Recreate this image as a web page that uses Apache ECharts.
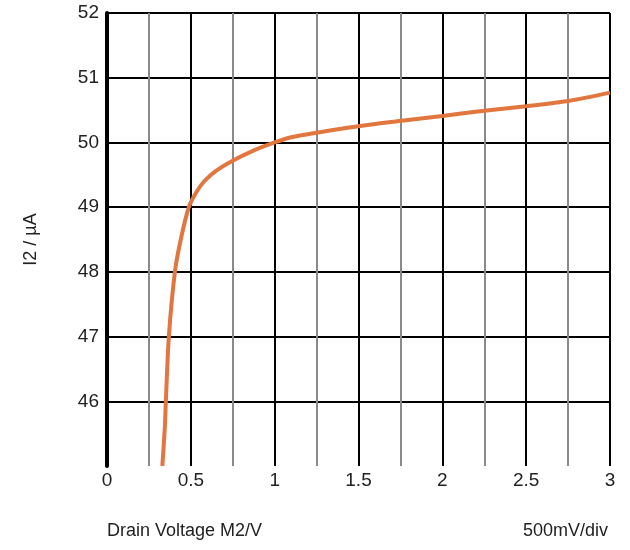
<!DOCTYPE html>
<html>
<head>
<meta charset="utf-8">
<script src="https://cdn.jsdelivr.net/npm/echarts@6/dist/echarts.min.js"></script>
<style>
  html, body { margin: 0; padding: 0; background: #fff; }
  #chart { width: 630px; height: 550px; }
</style>
</head>
<body>
<div id="chart"></div>
<script>
  // drain voltage (V) and current (uA)
  var voltage = [0.33, 0.345, 0.351, 0.369, 0.405, 0.44, 0.488, 0.53, 0.58, 0.65, 0.744, 0.87, 1.0, 1.1, 1.25, 1.5, 1.744, 2.0, 2.25, 2.5, 2.75, 3.0];
  var current = [45.0, 45.6, 46.0, 47.0, 48.0, 48.5, 49.0, 49.22, 49.4, 49.56, 49.71, 49.87, 50.0, 50.08, 50.15, 50.25, 50.33, 50.41, 50.49, 50.56, 50.64, 50.77];

  var points = voltage.map(function (v, i) { return [v, current[i]]; });

  var myChart = echarts.init(document.getElementById('chart'));
  var fontFamily = 'Liberation Sans, Arial, sans-serif';

  var option = {
    animation: false,
    grid: {
      left: 107,
      right: 20,
      top: 13,
      bottom: 84
    },
    xAxis: {
      type: 'value',
      min: 0,
      max: 3,
      interval: 0.5,
      axisLine: { show: false },
      axisTick: { show: false },
      axisLabel: {
        color: '#222',
        fontSize: 19,
        fontFamily: fontFamily,
        margin: 5
      },
      splitLine: {
        show: true,
        showMinLine: false,
        lineStyle: { color: '#000', width: 2 }
      },
      minorSplitLine: {
        show: true,
        lineStyle: { color: '#8a8a8a', width: 2 }
      },
      minorTick: { show: false, splitNumber: 2 }
    },
    yAxis: {
      type: 'value',
      min: 45,
      max: 52,
      interval: 1,
      name: 'I2 / µA',
      nameLocation: 'middle',
      nameGap: 67,
      nameTextStyle: {
        color: '#222',
        fontSize: 18,
        fontFamily: fontFamily
      },
      axisLine: {
        show: true,
        lineStyle: { color: '#000', width: 4 }
      },
      axisTick: { show: false },
      axisLabel: {
        color: '#222',
        fontSize: 19,
        fontFamily: fontFamily,
        margin: 8,
        formatter: function (v) { return v === 45 ? '' : v; }
      },
      splitLine: {
        show: true,
        showMinLine: false,
        lineStyle: { color: '#000', width: 2 }
      }
    },
    graphic: [
      {
        type: 'text',
        left: 107,
        top: 522,
        style: {
          text: 'Drain Voltage M2/V',
          fill: '#222',
          font: '18px ' + fontFamily
        }
      },
      {
        type: 'text',
        right: 22,
        top: 522,
        style: {
          text: '500mV/div',
          fill: '#222',
          font: '18px ' + fontFamily
        }
      }
    ],
    series: [{
      type: 'line',
      data: points,
      smooth: 0.3,
      showSymbol: false,
      lineStyle: { color: '#e2763f', width: 4 }
    }]
  };

  myChart.setOption(option);
</script>
</body>
</html>
